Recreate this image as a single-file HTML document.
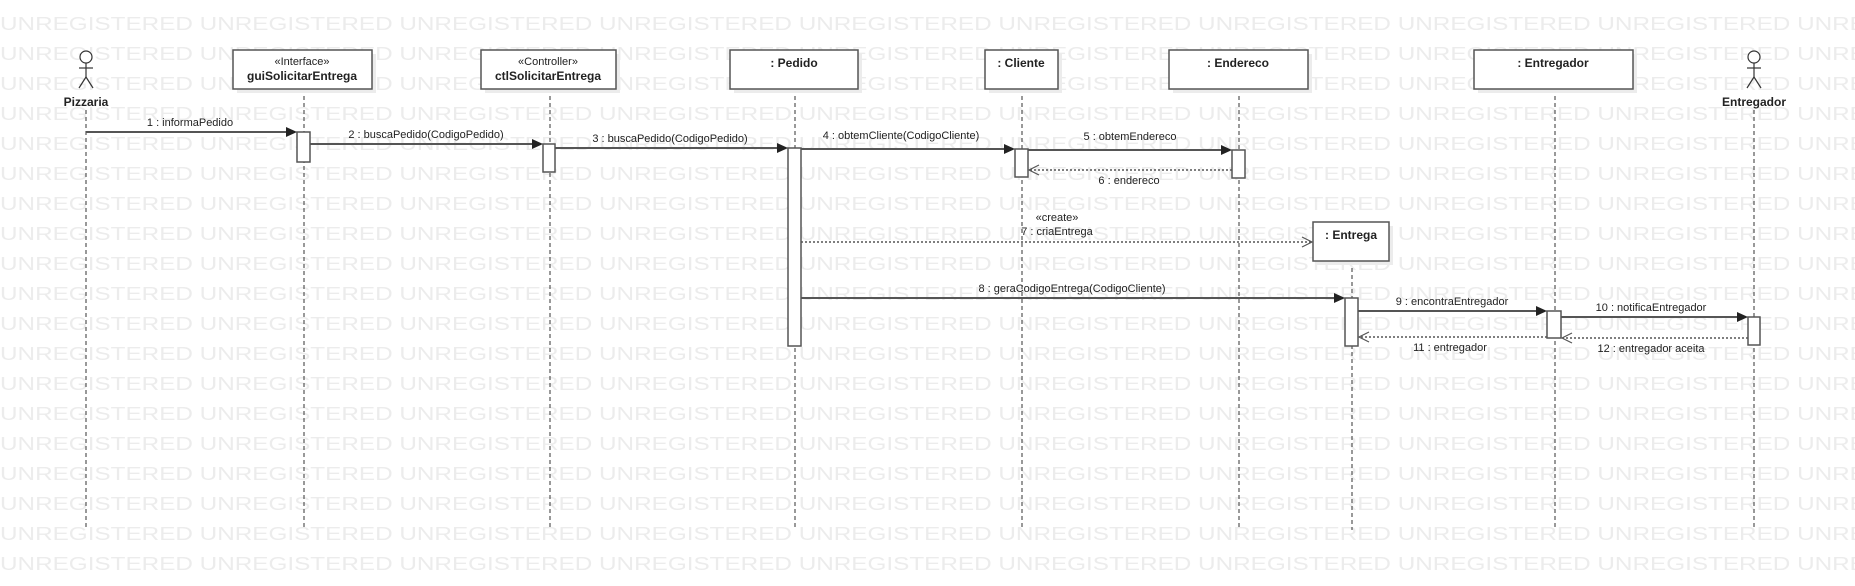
<!DOCTYPE html>
<html><head><meta charset="utf-8"><style>
html,body{margin:0;padding:0;background:#fff;}
svg{display:block;}
.wm{font-family:"Liberation Sans",sans-serif;font-size:18px;fill:#ececec;}
.b{font-family:"Liberation Sans",sans-serif;font-size:12px;font-weight:bold;fill:#222;}
.t{font-family:"Liberation Sans",sans-serif;font-size:11px;fill:#222;}
.box{fill:#fff;stroke:#555;stroke-width:1.5;}
.sh{fill:#ececec;}
.ll{stroke:#333;stroke-width:1;stroke-dasharray:4,3;fill:none;}
.m{stroke:#555;stroke-width:2;fill:none;}
.r{stroke:#555;stroke-width:1.5;stroke-dasharray:2,2;fill:none;}
.act{fill:#fff;stroke:#555;stroke-width:1.5;}
</style></head><body>
<svg width="1855" height="586" viewBox="0 0 1855 586" xmlns="http://www.w3.org/2000/svg">
<g class="wm">
<text x="0" y="30" textLength="1990" lengthAdjust="spacingAndGlyphs">UNREGISTERED UNREGISTERED UNREGISTERED UNREGISTERED UNREGISTERED UNREGISTERED UNREGISTERED UNREGISTERED UNREGISTERED UNREGISTERED</text>
<text x="0" y="60" textLength="1990" lengthAdjust="spacingAndGlyphs">UNREGISTERED UNREGISTERED UNREGISTERED UNREGISTERED UNREGISTERED UNREGISTERED UNREGISTERED UNREGISTERED UNREGISTERED UNREGISTERED</text>
<text x="0" y="90" textLength="1990" lengthAdjust="spacingAndGlyphs">UNREGISTERED UNREGISTERED UNREGISTERED UNREGISTERED UNREGISTERED UNREGISTERED UNREGISTERED UNREGISTERED UNREGISTERED UNREGISTERED</text>
<text x="0" y="120" textLength="1990" lengthAdjust="spacingAndGlyphs">UNREGISTERED UNREGISTERED UNREGISTERED UNREGISTERED UNREGISTERED UNREGISTERED UNREGISTERED UNREGISTERED UNREGISTERED UNREGISTERED</text>
<text x="0" y="150" textLength="1990" lengthAdjust="spacingAndGlyphs">UNREGISTERED UNREGISTERED UNREGISTERED UNREGISTERED UNREGISTERED UNREGISTERED UNREGISTERED UNREGISTERED UNREGISTERED UNREGISTERED</text>
<text x="0" y="180" textLength="1990" lengthAdjust="spacingAndGlyphs">UNREGISTERED UNREGISTERED UNREGISTERED UNREGISTERED UNREGISTERED UNREGISTERED UNREGISTERED UNREGISTERED UNREGISTERED UNREGISTERED</text>
<text x="0" y="210" textLength="1990" lengthAdjust="spacingAndGlyphs">UNREGISTERED UNREGISTERED UNREGISTERED UNREGISTERED UNREGISTERED UNREGISTERED UNREGISTERED UNREGISTERED UNREGISTERED UNREGISTERED</text>
<text x="0" y="240" textLength="1990" lengthAdjust="spacingAndGlyphs">UNREGISTERED UNREGISTERED UNREGISTERED UNREGISTERED UNREGISTERED UNREGISTERED UNREGISTERED UNREGISTERED UNREGISTERED UNREGISTERED</text>
<text x="0" y="270" textLength="1990" lengthAdjust="spacingAndGlyphs">UNREGISTERED UNREGISTERED UNREGISTERED UNREGISTERED UNREGISTERED UNREGISTERED UNREGISTERED UNREGISTERED UNREGISTERED UNREGISTERED</text>
<text x="0" y="300" textLength="1990" lengthAdjust="spacingAndGlyphs">UNREGISTERED UNREGISTERED UNREGISTERED UNREGISTERED UNREGISTERED UNREGISTERED UNREGISTERED UNREGISTERED UNREGISTERED UNREGISTERED</text>
<text x="0" y="330" textLength="1990" lengthAdjust="spacingAndGlyphs">UNREGISTERED UNREGISTERED UNREGISTERED UNREGISTERED UNREGISTERED UNREGISTERED UNREGISTERED UNREGISTERED UNREGISTERED UNREGISTERED</text>
<text x="0" y="360" textLength="1990" lengthAdjust="spacingAndGlyphs">UNREGISTERED UNREGISTERED UNREGISTERED UNREGISTERED UNREGISTERED UNREGISTERED UNREGISTERED UNREGISTERED UNREGISTERED UNREGISTERED</text>
<text x="0" y="390" textLength="1990" lengthAdjust="spacingAndGlyphs">UNREGISTERED UNREGISTERED UNREGISTERED UNREGISTERED UNREGISTERED UNREGISTERED UNREGISTERED UNREGISTERED UNREGISTERED UNREGISTERED</text>
<text x="0" y="420" textLength="1990" lengthAdjust="spacingAndGlyphs">UNREGISTERED UNREGISTERED UNREGISTERED UNREGISTERED UNREGISTERED UNREGISTERED UNREGISTERED UNREGISTERED UNREGISTERED UNREGISTERED</text>
<text x="0" y="450" textLength="1990" lengthAdjust="spacingAndGlyphs">UNREGISTERED UNREGISTERED UNREGISTERED UNREGISTERED UNREGISTERED UNREGISTERED UNREGISTERED UNREGISTERED UNREGISTERED UNREGISTERED</text>
<text x="0" y="480" textLength="1990" lengthAdjust="spacingAndGlyphs">UNREGISTERED UNREGISTERED UNREGISTERED UNREGISTERED UNREGISTERED UNREGISTERED UNREGISTERED UNREGISTERED UNREGISTERED UNREGISTERED</text>
<text x="0" y="510" textLength="1990" lengthAdjust="spacingAndGlyphs">UNREGISTERED UNREGISTERED UNREGISTERED UNREGISTERED UNREGISTERED UNREGISTERED UNREGISTERED UNREGISTERED UNREGISTERED UNREGISTERED</text>
<text x="0" y="540" textLength="1990" lengthAdjust="spacingAndGlyphs">UNREGISTERED UNREGISTERED UNREGISTERED UNREGISTERED UNREGISTERED UNREGISTERED UNREGISTERED UNREGISTERED UNREGISTERED UNREGISTERED</text>
<text x="0" y="570" textLength="1990" lengthAdjust="spacingAndGlyphs">UNREGISTERED UNREGISTERED UNREGISTERED UNREGISTERED UNREGISTERED UNREGISTERED UNREGISTERED UNREGISTERED UNREGISTERED UNREGISTERED</text>
<text x="0" y="600" textLength="1990" lengthAdjust="spacingAndGlyphs">UNREGISTERED UNREGISTERED UNREGISTERED UNREGISTERED UNREGISTERED UNREGISTERED UNREGISTERED UNREGISTERED UNREGISTERED UNREGISTERED</text>
</g>

<g class="ll">
<line x1="86" y1="110" x2="86" y2="530"/>
<line x1="304" y1="89" x2="304" y2="530"/>
<line x1="550" y1="89" x2="550" y2="530"/>
<line x1="795" y1="89" x2="795" y2="530"/>
<line x1="1022" y1="89" x2="1022" y2="530"/>
<line x1="1239" y1="89" x2="1239" y2="530"/>
<line x1="1352" y1="261" x2="1352" y2="530"/>
<line x1="1555" y1="89" x2="1555" y2="530"/>
<line x1="1754" y1="110" x2="1754" y2="530"/>
</g>

<g stroke="#333" stroke-width="1.2" fill="#fff">
<circle cx="86" cy="57" r="6"/>
<line x1="86" y1="63" x2="86" y2="77"/><line x1="79" y1="68" x2="93" y2="68"/>
<line x1="86" y1="77" x2="79" y2="88"/><line x1="86" y1="77" x2="93" y2="88"/>
<circle cx="1754" cy="57" r="6"/>
<line x1="1754" y1="63" x2="1754" y2="77"/><line x1="1747" y1="68" x2="1761" y2="68"/>
<line x1="1754" y1="77" x2="1747" y2="88"/><line x1="1754" y1="77" x2="1761" y2="88"/>
</g>
<text class="b" x="86" y="106" text-anchor="middle">Pizzaria</text>
<text class="b" x="1754" y="106" text-anchor="middle">Entregador</text>

<rect class="sh" x="237" y="54" width="139" height="39"/>
<rect class="box" x="233" y="50" width="139" height="39"/>
<text class="t" x="302" y="65" text-anchor="middle">«Interface»</text>
<text class="b" x="302" y="80" text-anchor="middle">guiSolicitarEntrega</text>

<rect class="sh" x="485" y="54" width="135" height="39"/>
<rect class="box" x="481" y="50" width="135" height="39"/>
<text class="t" x="548" y="65" text-anchor="middle">«Controller»</text>
<text class="b" x="548" y="80" text-anchor="middle">ctlSolicitarEntrega</text>

<rect class="sh" x="734" y="54" width="128" height="39"/>
<rect class="box" x="730" y="50" width="128" height="39"/>
<text class="b" x="794" y="67" text-anchor="middle">: Pedido</text>

<rect class="sh" x="989" y="54" width="73" height="39"/>
<rect class="box" x="985" y="50" width="73" height="39"/>
<text class="b" x="1021" y="67" text-anchor="middle">: Cliente</text>

<rect class="sh" x="1173" y="54" width="139" height="39"/>
<rect class="box" x="1169" y="50" width="139" height="39"/>
<text class="b" x="1238" y="67" text-anchor="middle">: Endereco</text>

<rect class="sh" x="1478" y="54" width="159" height="39"/>
<rect class="box" x="1474" y="50" width="159" height="39"/>
<text class="b" x="1553" y="67" text-anchor="middle">: Entregador</text>

<rect class="sh" x="1317" y="226" width="76" height="39"/>
<rect class="box" x="1313" y="222" width="76" height="39"/>
<text class="b" x="1351" y="239" text-anchor="middle">: Entrega</text>

<rect class="act" x="297" y="132" width="13" height="30"/>
<rect class="act" x="543" y="144" width="12" height="28"/>
<rect class="act" x="788" y="148" width="13" height="198"/>
<rect class="act" x="1015" y="149" width="13" height="28"/>
<rect class="act" x="1232" y="150" width="13" height="28"/>
<rect class="act" x="1345" y="298" width="13" height="48"/>
<rect class="act" x="1547" y="311" width="14" height="27"/>
<rect class="act" x="1748" y="317" width="12" height="28"/>

<g>
<line class="m" x1="86" y1="132" x2="288" y2="132"/><polygon points="297,132 286,127 286,137" fill="#222"/>
<line class="m" x1="310" y1="144" x2="534" y2="144"/><polygon points="543,144 532,139 532,149" fill="#222"/>
<line class="m" x1="555" y1="148" x2="779" y2="148"/><polygon points="788,148 777,143 777,153" fill="#222"/>
<line class="m" x1="801" y1="149" x2="1006" y2="149"/><polygon points="1015,149 1004,144 1004,154" fill="#222"/>
<line class="m" x1="1028" y1="150" x2="1223" y2="150"/><polygon points="1232,150 1221,145 1221,155" fill="#222"/>
<line class="r" x1="1232" y1="170" x2="1030" y2="170"/><polyline points="1039,165 1029,170 1039,175" fill="none" stroke="#555" stroke-width="1.2"/>
<line class="r" x1="801" y1="242" x2="1311" y2="242"/><polyline points="1302,237 1312,242 1302,247" fill="none" stroke="#555" stroke-width="1.2"/>
<line class="m" x1="801" y1="298" x2="1336" y2="298"/><polygon points="1345,298 1334,293 1334,303" fill="#222"/>
<line class="m" x1="1358" y1="311" x2="1538" y2="311"/><polygon points="1547,311 1536,306 1536,316" fill="#222"/>
<line class="m" x1="1561" y1="317" x2="1739" y2="317"/><polygon points="1748,317 1737,312 1737,322" fill="#222"/>
<line class="r" x1="1547" y1="337" x2="1360" y2="337"/><polyline points="1369,332 1359,337 1369,342" fill="none" stroke="#555" stroke-width="1.2"/>
<line class="r" x1="1748" y1="338" x2="1563" y2="338"/><polyline points="1572,333 1562,338 1572,343" fill="none" stroke="#555" stroke-width="1.2"/>
</g>

<text class="t" x="190" y="126" text-anchor="middle">1 : informaPedido</text>
<text class="t" x="426" y="138" text-anchor="middle">2 : buscaPedido(CodigoPedido)</text>
<text class="t" x="670" y="142" text-anchor="middle">3 : buscaPedido(CodigoPedido)</text>
<text class="t" x="901" y="139" text-anchor="middle">4 : obtemCliente(CodigoCliente)</text>
<text class="t" x="1130" y="140" text-anchor="middle">5 : obtemEndereco</text>
<text class="t" x="1129" y="184" text-anchor="middle">6 : endereco</text>
<text class="t" x="1057" y="221" text-anchor="middle">«create»</text>
<text class="t" x="1057" y="235" text-anchor="middle">7 : criaEntrega</text>
<text class="t" x="1072" y="292" text-anchor="middle">8 : geraCodigoEntrega(CodigoCliente)</text>
<text class="t" x="1452" y="305" text-anchor="middle">9 : encontraEntregador</text>
<text class="t" x="1651" y="311" text-anchor="middle">10 : notificaEntregador</text>
<text class="t" x="1450" y="351" text-anchor="middle">11 : entregador</text>
<text class="t" x="1651" y="352" text-anchor="middle">12 : entregador aceita</text>
</svg>
</body></html>
